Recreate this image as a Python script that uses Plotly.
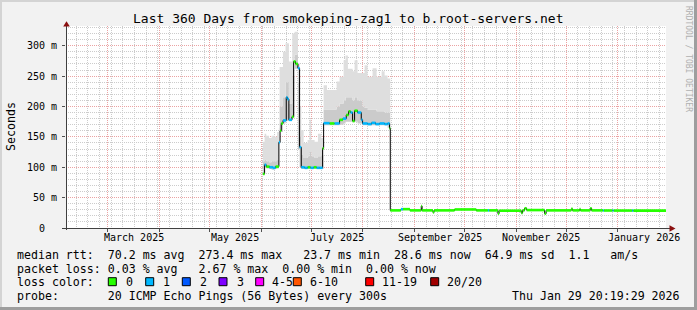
import plotly.graph_objects as go

# ---------------- data ----------------
# median RTT (ms) as step series, with number of lost pings (of 20) per step
med_dates = [
    "2025-06-02 00:00", "2025-06-03 00:00", "2025-06-04 00:00", "2025-06-06 00:00", "2025-06-08 00:00",
    "2025-06-09 14:00", "2025-06-11 14:00", "2025-06-12 07:00", "2025-06-13 00:00", "2025-06-14 02:00",
    "2025-06-16 00:00", "2025-06-16 17:00", "2025-06-17 14:00", "2025-06-19 10:00", "2025-06-20 10:00",
    "2025-06-21 14:00", "2025-06-23 00:00", "2025-06-24 00:00", "2025-06-25 00:00", "2025-06-27 00:00",
    "2025-06-28 19:00", "2025-06-30 14:00", "2025-07-02 10:00", "2025-07-04 05:00", "2025-07-06 00:00",
    "2025-07-07 19:00", "2025-07-08 10:00", "2025-07-12 00:00", "2025-07-15 00:00", "2025-07-18 00:00",
    "2025-07-20 00:00", "2025-07-22 00:00", "2025-07-23 10:00", "2025-07-24 14:00", "2025-07-25 19:00",
    "2025-07-27 00:00", "2025-07-28 19:00", "2025-07-31 00:00", "2025-07-31 19:00", "2025-08-03 19:00",
    "2025-08-06 05:00", "2025-08-08 14:00", "2025-08-11 00:00", "2025-08-14 00:00", "2025-08-15 19:00",
    "2025-08-17 00:00", "2025-08-17 10:00", "2025-08-23 19:00", "2025-08-25 00:00", "2025-08-29 05:00",
    "2025-09-05 00:00", "2025-09-05 12:00", "2025-09-12 00:00", "2025-09-12 17:00", "2025-09-25 00:00",
    "2025-10-08 00:00", "2025-10-15 00:00", "2025-10-15 17:00", "2025-10-21 00:00", "2025-10-21 17:00",
    "2025-11-04 00:00", "2025-11-04 19:00", "2025-11-06 00:00", "2025-11-07 05:00", "2025-11-18 00:00",
    "2025-11-18 22:00", "2025-12-04 00:00", "2025-12-04 19:00", "2025-12-09 00:00", "2025-12-09 14:00",
    "2025-12-15 10:00", "2025-12-16 05:00", "2025-12-23 00:00", "2025-12-23 14:00", "2025-12-28 19:00",
    "2025-12-29 10:00", "2026-01-09 14:00", "2026-01-10 05:00", "2026-01-29 20:19",
]
med_ms = [
    89, 104, 101, 100, 99,
    101, 141, 160, 172, 177,
    215, 212, 178, 183, 274,
    270, 263, 133, 100, 99,
    100, 99, 100, 99, 99,
    131, 172.5, 172, 172, 178,
    180, 186, 192, 190, 176,
    193, 190, 178, 172, 171,
    173, 171, 172, 171, 172,
    164, 29, 31, 31, 29,
    36, 29, 25.7, 29, 30.5,
    29, 29, 29, 23.7, 28.5,
    24.6, 29, 32.5, 29.5, 23.7,
    29, 31.5, 29, 31, 29,
    32.5, 29, 28.8, 28.8, 28.7,
    28.7, 28.6, 28.6, 28.6,
]
med_loss = [
    0, 1, 0, 1, 1,
    0, 1, 0, 0, 1,
    1, 1, 1, 0, 0,
    0, 1, 1, 1, 1,
    0, 1, 0, 1, 1,
    0, 1, 0, 1, 0,
    1, 0, 0, 1, 0,
    0, 1, 1, 1, 1,
    1, 1, 1, 1, 1,
    0, 0, 1, 0, 0,
    0, 0, 0, 0, 0,
    0, 1, 0, 0, 0,
    0, 0, 0, 0, 0,
    0, 0, 0, 0, 0,
    0, 0, 1, 0, 1,
    0, 1, 0, 0,
]

# smoke (ping spread) envelope, ms
smoke_dates = [
    "2025-06-02 00:00", "2025-06-03 00:00", "2025-06-04 00:00", "2025-06-05 17:00", "2025-06-07 05:00",
    "2025-06-09 00:00", "2025-06-10 12:00", "2025-06-11 14:00", "2025-06-12 00:00", "2025-06-14 00:00",
    "2025-06-15 14:00", "2025-06-17 14:00", "2025-06-19 14:00", "2025-06-21 00:00", "2025-06-23 00:00",
    "2025-06-24 00:00", "2025-06-25 00:00", "2025-06-26 10:00", "2025-06-28 19:00", "2025-06-30 00:00",
    "2025-07-01 00:00", "2025-07-03 00:00", "2025-07-05 00:00", "2025-07-07 00:00", "2025-07-08 10:00",
    "2025-07-10 10:00", "2025-07-16 05:00", "2025-07-18 00:00", "2025-07-20 10:00", "2025-07-21 14:00",
    "2025-07-23 00:00", "2025-07-25 19:00", "2025-07-27 00:00", "2025-07-28 19:00", "2025-07-31 19:00",
    "2025-08-02 00:00", "2025-08-03 19:00", "2025-08-06 19:00", "2025-08-09 05:00", "2025-08-12 05:00",
    "2025-08-14 00:00", "2025-08-15 19:00", "2025-08-17 10:00",
]
smoke_lo = [
    88, 99, 98, 97, 96,
    97, 98, 140, 158, 172,
    176, 176, 182, 262, 130,
    100, 97, 97, 97, 97,
    97, 97, 97, 97, 169,
    169, 169, 170, 172, 175,
    175, 174, 175, 172, 169,
    169, 169, 169, 169, 169,
    169, 165, 165,
]
smoke_mid = [
    110, 112, 110, 108, 110,
    110, 112, 150, 200, 215,
    240, 205, 250, 285, 240,
    150, 120, 115, 118, 125,
    118, 115, 118, 120, 195,
    195, 200, 205, 210, 215,
    215, 210, 215, 210, 200,
    198, 195, 195, 192, 192,
    190, 190, 190,
]
smoke_hi = [
    142, 155, 152, 148, 152,
    150, 158, 165, 265, 290,
    304, 274, 320, 323, 271,
    200, 161, 140, 145, 178,
    145, 142, 155, 148, 235,
    227, 241, 249, 276, 284,
    262, 258, 276, 255, 255,
    268, 249, 263, 249, 258,
    251, 246, 246,
]

y_tickvals = [0, 50, 100, 150, 200, 250, 300]
y_ticktext = ["0\u00a0\u00a0", "50 m", "100 m", "150 m", "200 m", "250 m", "300 m"]
x_label_dates = ["2025-03-16 12:00", "2025-05-16 12:00", "2025-07-16 12:00",
                 "2025-09-16 00:00", "2025-11-16 00:00", "2026-01-16 12:00"]
x_label_text = ["March 2025", "May 2025", "July 2025",
                "September 2025", "November 2025", "January 2026"]

loss_levels = [0, 1, 2, 3, 4, 6, 11, 20]
loss_labels = ["0", "1", "2", "3", "4-5", "6-10", "11-19", "20/20"]
loss_colors = ["#26ff00", "#00b8ff", "#0059ff", "#7e00ff", "#ff00ff", "#ff5500", "#ff0000", "#a10000"]

title_text = "Last 360 Days from smokeping-zag1 to b.root-servers.net"
legend_lines = [
    "median rtt:  70.2 ms avg  273.4 ms max   23.7 ms min  28.6 ms now  64.9 ms sd  1.1   am/s",
    "packet loss: 0.03 % avg   2.67 % max  0.00 % min  0.00 % now",
    "loss color:",
    "probe:       20 ICMP Echo Pings (56 Bytes) every 300s",
]
stamp_text = "Thu Jan 29 20:19:29 2026"

# ---------------- layout geometry (pixels) ----------------
W, H = 697, 310
ML, MR, MT, MB = 66, 31, 26, 82
PW, PH = W - ML - MR, H - MT - MB
Y_TOP = 332.4
X_RANGE = ["2025-02-03 20:19", "2026-01-29 20:19"]
MONO = "DejaVu Sans Mono"


def PX(x):
    return (x - ML) / PW


def PY(y):
    return (MT + PH - y) / PH


def nb(s):
    return s.replace(" ", "\u00a0")


fig = go.Figure()

# smoke
fig.add_trace(go.Scatter(x=smoke_dates, y=smoke_lo, mode="lines",
                         line=dict(width=0, shape="hv", color="rgba(0,0,0,0)"),
                         hoverinfo="skip", showlegend=False))
fig.add_trace(go.Scatter(x=smoke_dates, y=smoke_mid, mode="lines",
                         line=dict(width=0, shape="hv", color="rgba(0,0,0,0)"),
                         fill="tonexty", fillcolor="#cbcbcb", hoverinfo="skip", showlegend=False))
fig.add_trace(go.Scatter(x=smoke_dates, y=smoke_hi, mode="lines",
                         line=dict(width=0, shape="hv", color="rgba(0,0,0,0)"),
                         fill="tonexty", fillcolor="#dedede", hoverinfo="skip", showlegend=False))

# median line
fig.add_trace(go.Scatter(x=med_dates, y=med_ms, mode="lines",
                         line=dict(width=1, shape="hv", color="#000000"),
                         hoverinfo="skip", showlegend=False))


def loss_index(n):
    idx = 0
    for i, lv in enumerate(loss_levels):
        if n >= lv:
            idx = i
    return idx


for ci, col in enumerate(loss_colors):
    xs, ys = [], []
    for i in range(len(med_dates) - 1):
        if loss_index(med_loss[i]) == ci:
            xs += [med_dates[i], med_dates[i + 1], None]
            ys += [med_ms[i], med_ms[i], None]
    if xs:
        fig.add_trace(go.Scatter(x=xs, y=ys, mode="lines",
                                 line=dict(width=2.6, color=col),
                                 hoverinfo="skip", showlegend=False))

DOT = "1px,1px"
fig.update_xaxes(
    type="date", range=X_RANGE, showline=False, zeroline=False,
    tickmode="linear", tick0="2025-01-01", dtick="M1",
    showgrid=True, gridcolor="#eba3a3", griddash=DOT, gridwidth=1,
    ticks="outside", ticklen=3, tickcolor="#505050", showticklabels=False,
    minor=dict(dtick=7 * 86400000, tick0="2025-02-03", showgrid=True,
               gridcolor="#cccccc", griddash=DOT, ticks=""),
    fixedrange=True,
)
fig.update_yaxes(
    range=[0, Y_TOP], showline=False, zeroline=False,
    tickmode="array", tickvals=y_tickvals, ticktext=y_ticktext,
    showgrid=True, gridcolor="#eba3a3", griddash=DOT, gridwidth=1,
    ticks="outside", ticklen=3, tickcolor="#505050", ticklabelstandoff=3,
    tickfont=dict(family=MONO, size=10, color="#000000"),
    minor=dict(dtick=10, showgrid=True, gridcolor="#cccccc", griddash=DOT, ticks=""),
    fixedrange=True,
)

shapes = []
AX = "#404040"
# axes
shapes.append(dict(type="line", xref="paper", yref="paper", x0=PX(66.5), x1=PX(66.5),
                   y0=PY(230), y1=PY(25), line=dict(color=AX, width=1)))
shapes.append(dict(type="line", xref="paper", yref="paper", x0=PX(62), x1=PX(670),
                   y0=PY(228.5), y1=PY(228.5), line=dict(color=AX, width=1)))


def tri(pts):
    return "M " + " L ".join(f"{PX(a)},{PY(b)}" for a, b in pts) + " Z"


shapes.append(dict(type="path", xref="paper", yref="paper",
                   path=tri([(66.5, 21.2), (63.2, 26.5), (69.8, 26.5)]),
                   fillcolor="#8b1010", line=dict(width=0)))
shapes.append(dict(type="path", xref="paper", yref="paper",
                   path=tri([(675.5, 228.5), (669.5, 225.2), (669.5, 231.8)]),
                   fillcolor="#8b1010", line=dict(width=0)))
# frame shading
shapes.append(dict(type="rect", xref="paper", yref="paper", x0=PX(0), x1=PX(W), y0=PY(0), y1=PY(2),
                   fillcolor="#d4d4d4", line=dict(width=0), layer="below"))
shapes.append(dict(type="rect", xref="paper", yref="paper", x0=PX(0), x1=PX(2), y0=PY(0), y1=PY(H),
                   fillcolor="#d4d4d4", line=dict(width=0), layer="below"))
shapes.append(dict(type="rect", xref="paper", yref="paper", x0=PX(W - 3), x1=PX(W), y0=PY(0), y1=PY(H),
                   fillcolor="#9e9e9e", line=dict(width=0)))
shapes.append(dict(type="rect", xref="paper", yref="paper", x0=PX(0), x1=PX(W), y0=PY(H - 3), y1=PY(H),
                   fillcolor="#9e9e9e", line=dict(width=0)))

# loss color boxes
box_x = [108.3, 145.7, 182.3, 219.0, 255.7, 293.3, 365.7, 430.7]
lab_x = [123.5, 161.0, 198.0, 234.5, 270.3, 307.5, 379.5, 444.5]
for bx, col in zip(box_x, loss_colors):
    shapes.append(dict(type="rect", xref="paper", yref="paper",
                       x0=PX(bx), x1=PX(bx + 8), y0=PY(277.7), y1=PY(285.7),
                       fillcolor=col, line=dict(color="#000000", width=1)))

ann = []
ann.append(dict(text=nb(title_text), xref="paper", yref="paper", x=PX(347.5), y=PY(18.8),
                xanchor="center", yanchor="middle", showarrow=False,
                font=dict(family=MONO, size=13, color="#000000")))
ann.append(dict(text="Seconds", xref="paper", yref="paper", x=PX(11), y=PY(127),
                xanchor="center", yanchor="middle", showarrow=False, textangle=-90,
                font=dict(family=MONO, size=11.6, color="#000000")))
ann.append(dict(text=nb("RRDTOOL / TOBI OETIKER"), xref="paper", yref="paper", x=PX(688.5), y=PY(58.5),
                xanchor="center", yanchor="middle", showarrow=False, textangle=90,
                font=dict(family=MONO, size=8, color="#b0b0b0")))
for d, t in zip(x_label_dates, x_label_text):
    ann.append(dict(text=nb(t), xref="x", yref="paper", x=d, y=PY(237.3),
                    xanchor="center", yanchor="middle", showarrow=False,
                    font=dict(family=MONO, size=10, color="#000000")))
line_y = [255.0, 268.5, 282.0, 296.0]
for t, yy in zip(legend_lines, line_y):
    ann.append(dict(text=nb(t), xref="paper", yref="paper", x=PX(15.2), y=PY(yy),
                    xanchor="left", yanchor="middle", showarrow=False,
                    font=dict(family=MONO, size=11.6, color="#000000")))
for lx, t in zip(lab_x, loss_labels):
    ann.append(dict(text=nb(t), xref="paper", yref="paper", x=PX(lx), y=PY(282.0),
                    xanchor="left", yanchor="middle", showarrow=False,
                    font=dict(family=MONO, size=11.6, color="#000000")))
ann.append(dict(text=nb(stamp_text), xref="paper", yref="paper", x=PX(681.5), y=PY(296.0),
                xanchor="right", yanchor="middle", showarrow=False,
                font=dict(family=MONO, size=11.6, color="#000000")))

fig.update_layout(
    width=W, height=H, autosize=False,
    margin=dict(l=ML, r=MR, t=MT, b=MB, pad=0),
    paper_bgcolor="#f2f2f2", plot_bgcolor="#ffffff",
    showlegend=False, shapes=shapes, annotations=ann,
    font=dict(family=MONO),
)

fig.write_html("out.html", config={"displayModeBar": False, "staticPlot": True})
